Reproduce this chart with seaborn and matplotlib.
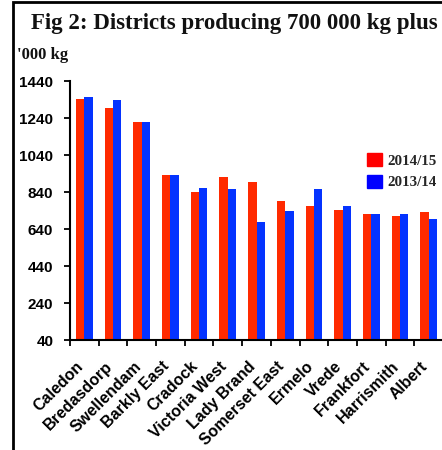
import matplotlib
matplotlib.use("Agg")
import matplotlib.pyplot as plt
import matplotlib.patches as mpatches
import matplotlib.transforms as mtransforms
import seaborn as sns
import pandas as pd
import numpy as np

districts = ["Caledon", "Bredasdorp", "Swellendam", "Barkly East", "Cradock",
             "Victoria West", "Lady Brand", "Somerset East", "Ermelo", "Vrede",
             "Frankfort", "Harrismith", "Albert"]
season_2014_15 = [1344, 1294, 1220, 933, 839, 924, 895, 790, 765, 743, 722, 709, 734]
season_2013_14 = [1353, 1337, 1218, 931, 864, 857, 679, 740, 857, 763, 720, 720, 695]
series_labels = ["2014/15", "2013/14"]
y_ticks = [40, 240, 440, 640, 840, 1040, 1240, 1440]

df = pd.DataFrame({
    "District": districts * 2,
    "Season": [series_labels[0]] * len(districts) + [series_labels[1]] * len(districts),
    "Value": season_2014_15 + season_2013_14,
})

sns.set_theme(style="white")
plt.rcParams["font.family"] = ["Liberation Sans", "DejaVu Sans"]

W, H = 442, 450
fig = plt.figure(figsize=(W / 100, H / 100), dpi=100)
ax = fig.add_axes([70 / W, 1 - 340 / H, 373 / W, (340 - 81.3) / H])

bar_colors = ["#FF2A00", "#0433FF"]
sns.barplot(data=df, x="District", y="Value", hue="Season", order=districts,
            hue_order=series_labels, palette=bar_colors, width=0.58,
            saturation=1, ax=ax, legend=False, linewidth=0)

ax.set_ylim(40, 1440)
ax.set_xlim(-0.5, len(districts) - 0.5)
ax.set_yticks(y_ticks)
ax.set_yticklabels([str(t) for t in y_ticks], fontsize=11, fontweight="bold",
                   family=["Liberation Sans"])
ax.set_xticks(range(len(districts)))
ax.set_xticks(np.arange(-0.5, len(districts) + 0.5, 1.0), minor=True)
ax.tick_params(axis="x", which="major", length=0, pad=17.3, colors="black")
ax.tick_params(axis="x", which="minor", length=4, width=1.3, direction="out",
               bottom=True, color="black")
ax.tick_params(axis="y", length=4, width=1.3, direction="out", left=True,
               color="black", pad=8, labelcolor="black")
ax.set_xticklabels(districts, rotation=45, ha="right", va="baseline",
                   rotation_mode="anchor", fontsize=11.5, fontweight="bold",
                   family=["Liberation Sans"])
offset = mtransforms.ScaledTranslation(0.0, -0.03, fig.dpi_scale_trans)
for lbl in ax.get_xticklabels():
    lbl.set_transform(lbl.get_transform() + offset)
ax.set_xlabel("")
ax.set_ylabel("")
for s in ["top", "right"]:
    ax.spines[s].set_visible(False)
for s in ["left", "bottom"]:
    ax.spines[s].set_color("black")
    ax.spines[s].set_linewidth(1.5)
ax.grid(False)

# Title and unit label
fig.text(234 / W, 1 - 29 / H, "Fig 2: Districts producing 700 000 kg plus",
         ha="center", va="baseline", fontsize=16.5, fontweight="bold",
         family=["Liberation Serif"], color="#111111")
fig.text(17 / W, 1 - 59 / H, "'000 kg", ha="left", va="baseline",
         fontsize=12, fontweight="bold", family=["Liberation Serif"],
         color="#111111")

# Legend
handles = [mpatches.Patch(color="#FF0000", label=series_labels[0]),
           mpatches.Patch(color="#0000FF", label=series_labels[1])]
fig.legend(handles=handles, loc="upper left",
           bbox_to_anchor=(367 / W, 1 - 153 / H), frameon=False,
           borderpad=0, borderaxespad=0, handlelength=1.0, handleheight=1.0,
           handletextpad=0.35, labelspacing=0.45,
           prop={"family": "Liberation Serif", "weight": "bold", "size": 10.8})

# Outer border
border = mpatches.Rectangle((13 / W, -0.05), 1.2, 1 - 1.5 / H + 0.05,
                            transform=fig.transFigure, fill=False,
                            edgecolor="black", linewidth=2, clip_on=False)
fig.patches.append(border)

fig.savefig("out.png", dpi=100)
